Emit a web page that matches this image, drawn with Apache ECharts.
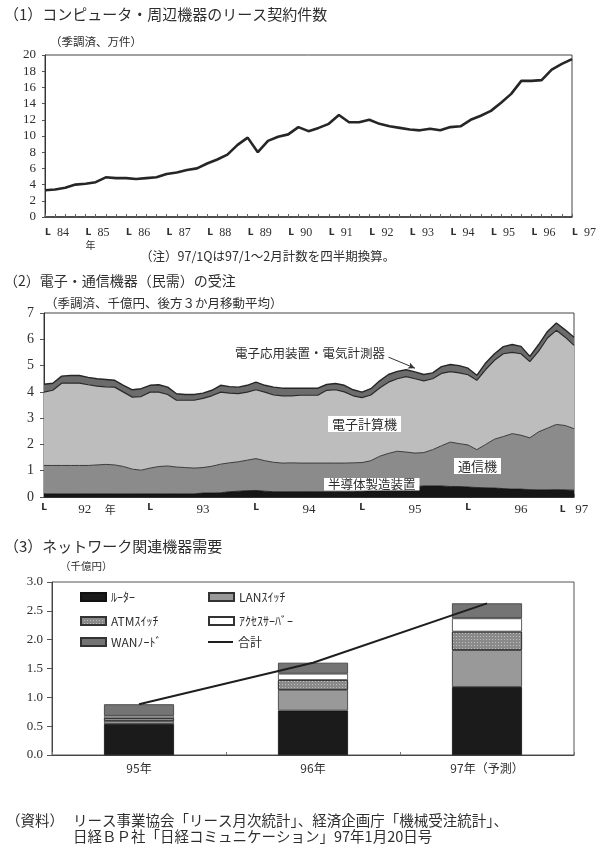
<!DOCTYPE html>
<html><head><meta charset="utf-8">
<script src="https://cdn.jsdelivr.net/npm/echarts/dist/echarts.min.js"></script>
<style>html,body{margin:0;padding:0;background:#fff}#c{width:600px;height:850px}</style>
</head><body><div id="c"></div>
<script>
// ---------- Panel 1: lease contracts (quarterly, 84Q1 - 97Q1) ----------
const leaseYears = ['84','85','86','87','88','89','90','91','92','93','94','95','96'];
const leaseQuarters = [];
leaseYears.forEach(y => { for (let q = 1; q <= 4; q++) leaseQuarters.push(y + 'Q' + q); });
leaseQuarters.push('97Q1');
const leaseCount = [3.3,3.4,3.6,4.0,4.1,4.3,4.9,4.8,4.8,4.7,
  4.8,4.9,5.3,5.5,5.8,6.0,6.6,7.1,7.7,8.9,
  9.8,8.0,9.4,9.9,10.2,11.1,10.6,11.0,11.5,12.6,
  11.7,11.7,12.0,11.5,11.2,11.0,10.8,10.7,10.9,10.7,
  11.1,11.2,12.0,12.5,13.1,14.1,15.2,16.8,16.8,16.9,
  18.2,18.9,19.5];

// ---------- Panel 2: electronic / telecom orders (monthly, 92/1 - 97/1) ----------
const orderYears = ['92','93','94','95','96'];
const orderMonths = [];
orderYears.forEach(y => { for (let m = 1; m <= 12; m++) orderMonths.push(y + '/' + m); });
orderMonths.push('97/1');
const semiconductor = [0.12,0.12,0.12,0.12,0.12,0.12,0.12,0.12,0.12,0.12,
  0.12,0.12,0.12,0.12,0.12,0.12,0.12,0.12,0.15,0.15,
  0.16,0.2,0.22,0.24,0.25,0.22,0.2,0.2,0.2,0.2,
  0.2,0.2,0.2,0.2,0.2,0.2,0.22,0.24,0.26,0.3,
  0.34,0.38,0.4,0.42,0.42,0.42,0.4,0.4,0.38,0.36,
  0.35,0.34,0.32,0.3,0.3,0.28,0.27,0.27,0.28,0.27,
  0.26];
const telecom = [1.08,1.08,1.08,1.08,1.08,1.08,1.10,1.12,1.10,1.04,
  0.94,0.90,0.98,1.04,1.06,1.02,1.00,0.98,0.97,1.02,
  1.09,1.10,1.12,1.16,1.21,1.16,1.12,1.09,1.10,1.09,
  1.09,1.09,1.09,1.09,1.09,1.10,1.09,1.14,1.29,1.36,
  1.40,1.33,1.27,1.27,1.38,1.53,1.69,1.63,1.60,1.44,
  1.65,1.86,1.98,2.11,2.05,1.97,2.21,2.35,2.48,2.45,
  2.34];
const computers = [2.79,2.86,3.13,3.13,3.13,3.07,3.00,2.95,2.96,2.83,
  2.74,2.80,2.89,2.83,2.72,2.54,2.56,2.58,2.63,2.68,
  2.74,2.65,2.59,2.59,2.62,2.61,2.56,2.56,2.55,2.58,
  2.58,2.58,2.77,2.79,2.71,2.55,2.47,2.50,2.60,2.71,
  2.76,2.87,2.83,2.73,2.70,2.75,2.68,2.69,2.67,2.64,
  2.85,3.00,3.15,3.09,3.10,2.90,3.07,3.43,3.58,3.36,
  3.17];
const electronicApp = [0.30,0.27,0.27,0.29,0.29,0.28,0.28,0.28,0.26,0.26,
  0.28,0.30,0.26,0.28,0.28,0.25,0.22,0.22,0.20,0.21,
  0.26,0.25,0.25,0.26,0.29,0.26,0.30,0.29,0.29,0.27,
  0.27,0.27,0.22,0.24,0.25,0.23,0.21,0.24,0.27,0.29,
  0.28,0.26,0.26,0.24,0.22,0.26,0.27,0.28,0.25,0.19,
  0.25,0.25,0.27,0.30,0.28,0.20,0.25,0.25,0.28,0.28,
  0.31];

// ---------- Panel 3: network equipment demand ----------
const netCats = ['95年','96年','97年（予測）'];
const router       = [0.54, 0.77, 1.18];
const lanSwitch    = [0.05, 0.36, 0.64];
const atmSwitch    = [0.05, 0.17, 0.32];
const accessServer = [0.04, 0.11, 0.23];
const wanNode      = [0.20, 0.19, 0.26];
const netTotal     = [0.88, 1.60, 2.63];

const serif = 'Liberation Serif';
const jp = 'Noto Sans CJK JP';
const ink = '#2e2e2e';

const chart = echarts.init(document.getElementById('c'), null, {renderer:'canvas'});

const legBase = {orient:'horizontal', padding:0, itemWidth:25, itemHeight:8, icon:'rect',
  selectedMode:false, textStyle:{fontFamily:jp, fontSize:12, color:ink}};

function txt(text, left, top, size, extra) {
  return {type:'text', left:left, top:top, silent:true, z:100,
    style:Object.assign({text:text, fontFamily:jp, fontSize:size, fill:ink}, extra || {})};
}

const option = {
  backgroundColor:'#ffffff',
  animation:false,
  grid:[
    {left:45, top:55, width:527, height:162, show:true, borderColor:'#444', borderWidth:1},
    {left:44, top:313, width:530, height:184, show:true, borderColor:'#444', borderWidth:1},
    {left:52, top:582, width:522, height:173, show:true, borderColor:'#555', borderWidth:1}
  ],
  xAxis:[
    {gridIndex:0, type:'category', data:leaseQuarters, boundaryGap:false,
     axisLine:{lineStyle:{color:'#333', width:1.5}},
     axisTick:{show:true, interval:0, inside:true, length:3, lineStyle:{color:'#666'}},
     axisLabel:{interval:(i)=>i%4===0, align:'left', margin:10, color:ink,
       formatter:(v,i)=>'{l|L} {y|'+v.slice(0,2)+'}'+(i===4?'\n{n|年}':''),
       rich:{l:{fontFamily:'DejaVu Sans', fontWeight:'bold', fontSize:9, color:ink},
             y:{fontFamily:serif, fontSize:12, color:ink, padding:[0,0,0,3]},
             n:{fontFamily:jp, fontSize:10, color:ink, lineHeight:13}}}},
    {gridIndex:1, type:'category', data:orderMonths, boundaryGap:false,
     axisLine:{lineStyle:{color:'#333', width:1.2}},
     axisTick:{show:true, interval:0, inside:true, length:3, lineStyle:{color:'#666'}},
     axisLabel:{interval:(i)=>i%6===0, margin:6, color:ink,
       formatter:(v,i)=>{
         if (i%12===0) return i===60 ? '{l|L}   {y|97}' : '{l|L}';
         const y = v.slice(0,2);
         return i===6 ? '{y|92}    {n|年}' : '{y|'+y+'}';
       },
       rich:{l:{fontFamily:'DejaVu Sans', fontWeight:'bold', fontSize:9, color:ink},
             y:{fontFamily:serif, fontSize:13, color:ink},
             n:{fontFamily:jp, fontSize:11, color:ink}}}},
    {gridIndex:2, type:'category', data:netCats,
     axisLine:{lineStyle:{color:'#444'}},
     axisTick:{show:true, inside:true, length:3, lineStyle:{color:'#777'}},
     axisLabel:{margin:7, fontFamily:jp, fontSize:12, color:ink}}
  ],
  yAxis:[
    {gridIndex:0, type:'value', min:0, max:20, interval:2,
     splitLine:{show:false}, axisLine:{show:true, lineStyle:{color:'#333'}},
     axisTick:{show:true, length:3, lineStyle:{color:'#555'}},
     axisLabel:{margin:9, fontFamily:serif, fontSize:13, color:ink}},
    {gridIndex:1, type:'value', min:0, max:7, interval:1,
     splitLine:{show:false}, axisLine:{show:true, lineStyle:{color:'#333'}},
     axisTick:{show:true, length:4, lineStyle:{color:'#555'}},
     axisLabel:{margin:10, fontFamily:serif, fontSize:14, color:ink}},
    {gridIndex:2, type:'value', min:0, max:3, interval:0.5,
     splitLine:{show:false}, axisLine:{show:true, lineStyle:{color:'#444'}},
     axisTick:{show:true, length:5, lineStyle:{color:'#555'}},
     axisLabel:{margin:9, fontFamily:serif, fontSize:13, color:ink, formatter:(v)=>v.toFixed(1)}}
  ],
  legend:[
    Object.assign({}, legBase, {data:['ﾙｰﾀｰ'], left:80, top:591}),
    Object.assign({}, legBase, {data:['LANｽｲｯﾁ'], left:208, top:591}),
    Object.assign({}, legBase, {data:['ATMｽｲｯﾁ'], left:80, top:615}),
    Object.assign({}, legBase, {data:['ｱｸｾｽｻｰﾊﾞｰ'], left:208, top:615}),
    Object.assign({}, legBase, {data:['WANﾉｰﾄﾞ'], left:80, top:636}),
    Object.assign({}, legBase, {data:['合計'], left:208, top:636, itemHeight:2})
  ],
  series:[
    {name:'リース契約件数', type:'line', xAxisIndex:0, yAxisIndex:0, data:leaseCount,
     symbol:'none', lineStyle:{color:'#262626', width:2.6}},

    {name:'半導体製造装置', type:'line', xAxisIndex:1, yAxisIndex:1, stack:'orders', data:semiconductor,
     symbol:'none', lineStyle:{color:'#111', width:0.8}, areaStyle:{color:'#161616', opacity:1},
     markLine:{silent:true, symbol:['none','arrow'], symbolSize:[5,7], label:{show:false},
       lineStyle:{color:'#333', width:1, type:'solid'},
       data:[[{coord:[39.3, 5.32]}, {coord:[41.6, 4.9]}]]}},
    {name:'通信機', type:'line', xAxisIndex:1, yAxisIndex:1, stack:'orders', data:telecom,
     symbol:'none', lineStyle:{color:'#3a3a3a', width:1}, areaStyle:{color:'#8b8b8b', opacity:1}},
    {name:'電子計算機', type:'line', xAxisIndex:1, yAxisIndex:1, stack:'orders', data:computers,
     symbol:'none', lineStyle:{color:'#2a2a2a', width:1.2}, areaStyle:{color:'#bdbdbd', opacity:1}},
    {name:'電子応用装置・電気計測器', type:'line', xAxisIndex:1, yAxisIndex:1, stack:'orders', data:electronicApp,
     symbol:'none', lineStyle:{color:'#262626', width:1.4}, areaStyle:{color:'#6c6c6c', opacity:1}},

    {name:'ﾙｰﾀｰ', type:'bar', xAxisIndex:2, yAxisIndex:2, stack:'net', data:router, barWidth:70,
     itemStyle:{color:'#1b1b1b', borderColor:'#111', borderWidth:0.8}},
    {name:'LANｽｲｯﾁ', type:'bar', xAxisIndex:2, yAxisIndex:2, stack:'net', data:lanSwitch,
     itemStyle:{color:'#999999', borderColor:'#333', borderWidth:0.8}},
    {name:'ATMｽｲｯﾁ', type:'bar', xAxisIndex:2, yAxisIndex:2, stack:'net', data:atmSwitch,
     itemStyle:{color:'#8a8a8a', borderColor:'#333', borderWidth:0.8,
       decal:{symbol:'rect', symbolSize:1, dashArrayX:[1,2], dashArrayY:[1,2], color:'rgba(255,255,255,0.45)', rotation:0}}},
    {name:'ｱｸｾｽｻｰﾊﾞｰ', type:'bar', xAxisIndex:2, yAxisIndex:2, stack:'net', data:accessServer,
     itemStyle:{color:'#ffffff', borderColor:'#333', borderWidth:0.8}},
    {name:'WANﾉｰﾄﾞ', type:'bar', xAxisIndex:2, yAxisIndex:2, stack:'net', data:wanNode,
     itemStyle:{color:'#747474', borderColor:'#333', borderWidth:0.8}},
    {name:'合計', type:'line', xAxisIndex:2, yAxisIndex:2, data:netTotal, z:5,
     symbol:'none', lineStyle:{color:'#1e1e1e', width:2}, itemStyle:{color:'#1e1e1e'}}
  ],
  graphic:[
    txt('（1）コンピュータ・周辺機器のリース契約件数', 4, 7, 15),
    txt('（季調済、万件）', 50, 36, 11.5),
    txt('（注）97/1Qは97/1～2月計数を四半期換算。', 140, 250, 12.5),
    txt('（2）電子・通信機器（民需）の受注', 4, 274, 14),
    txt('（季調済、千億円、後方３か月移動平均）', 45, 297, 12.5),
    txt('電子応用装置・電気計測器', 235, 347, 12.5),
    txt('電子計算機', 328, 416, 13, {backgroundColor:'#fff', padding:[2,4,1,4]}),
    txt('通信機', 454, 458, 13, {backgroundColor:'#fff', padding:[2,4,1,4]}),
    txt('半導体製造装置', 324, 478, 12.5, {backgroundColor:'#fff', padding:[0,4,0,4]}),
    txt('（3）ネットワーク関連機器需要', 4, 539, 15),
    txt('（千億円）', 60, 561, 10.5),
    txt('（資料）', 6, 813, 14.5),
    txt('リース事業協会「リース月次統計」、経済企画庁「機械受注統計」、', 73, 813, 14.5),
    txt('日経ＢＰ社「日経コミュニケーション」97年1月20日号', 73, 829, 14.5)
  ]
};
chart.setOption(option);
</script>
</body></html>
